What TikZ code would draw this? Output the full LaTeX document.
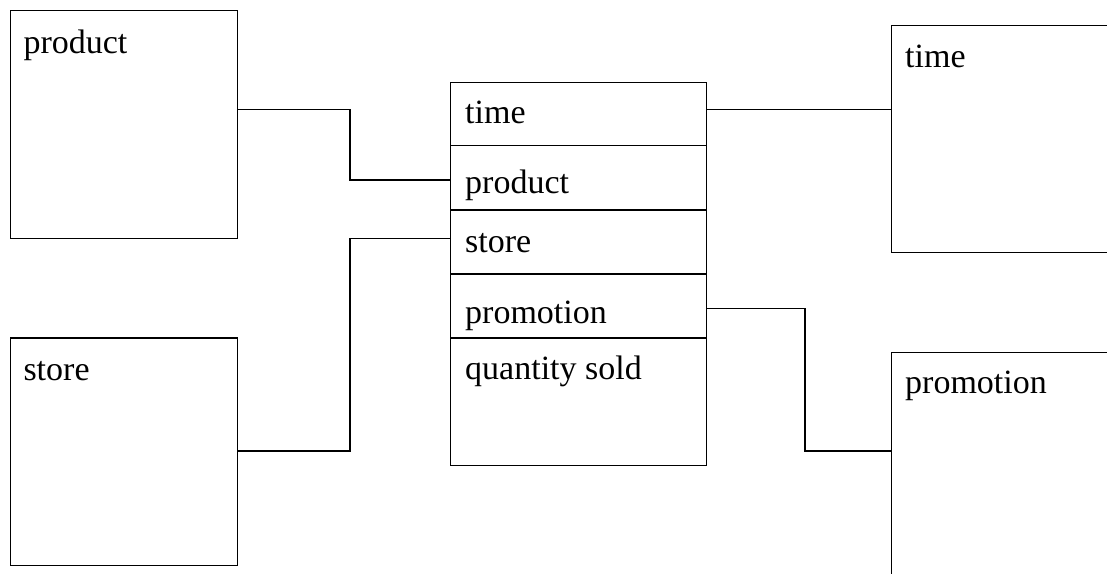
\documentclass[tikz,border=0pt]{standalone}
\usepackage{fontspec}
\setmainfont{Liberation Serif}
\begin{document}
\begin{tikzpicture}[x=1pt,y=-1pt,
  box/.style={draw, line width=1.3pt, anchor=north west, inner sep=0pt, minimum width=#1},
  box/.default=227pt,
  lbl/.style={anchor=base west, inner sep=0pt, font=\fontsize{34}{40}\selectfont},
  wire/.style={line width=1.3pt}]
\useasboundingbox (0,0) rectangle (1107,573);
\clip (0,0) rectangle (1107,573);

% dimension tables
\node[box, minimum height=228pt] (prodbox) at (10,10) {};
\node[box, minimum height=227.7pt] (storebox) at (10,337.3) {};
\node[box=300pt, minimum height=226.7pt] (timebox) at (890.7,25) {};
\node[box=300pt, minimum height=300pt] (promobox) at (890.7,351.7) {};

\node[lbl] (prodlbl) at (23.3,53) {product};
\node[lbl] (storelbl) at (23.3,380) {store};
\node[lbl] (timelbl) at (905,67) {time};
\node[lbl] (promolbl) at (905,393) {promotion};

% fact table
\node[box=256pt, minimum height=63.3pt] (fTime) at (450,81.7) {};
\node[box=256pt, minimum height=64.3pt] (fProd) at (450,145) {};
\node[box=256pt, minimum height=64pt] (fStore) at (450,209.3) {};
\node[box=256pt, minimum height=64pt] (fPromo) at (450,273.3) {};
\node[box=256pt, minimum height=127.7pt] (fQty) at (450,337.3) {};

\node[lbl] (tTime) at (465,123) {time};
\node[lbl] (tProd) at (465,193) {product};
\node[lbl] (tStore) at (465,252) {store};
\node[lbl] (tPromo) at (465,323) {promotion};
\node[lbl] (tQty) at (465,379) {quantity sold};

% connector heights
\coordinate (yP) at (0,109.5);
\coordinate (yFP) at (0,180);
\coordinate (yS) at (0,451);
\coordinate (yFS) at (0,238.3);
\coordinate (yT) at (0,109.5);
\coordinate (yFM) at (0,308.5);
\coordinate (yM) at (0,451);
\coordinate (xL) at (350,0);
\coordinate (xR) at (805,0);

% relationships
\draw[wire] (prodbox.east |- yP) -- (xL |- yP) -- (xL |- yFP) -- (fProd.west |- yFP);
\draw[wire] (storebox.east |- yS) -- (xL |- yS) -- (xL |- yFS) -- (fStore.west |- yFS);
\draw[wire] (fTime.east |- yT) -- (timebox.west |- yT);
\draw[wire] (fPromo.east |- yFM) -- (xR |- yFM) -- (xR |- yM) -- (promobox.west |- yM);
\end{tikzpicture}
\end{document}
